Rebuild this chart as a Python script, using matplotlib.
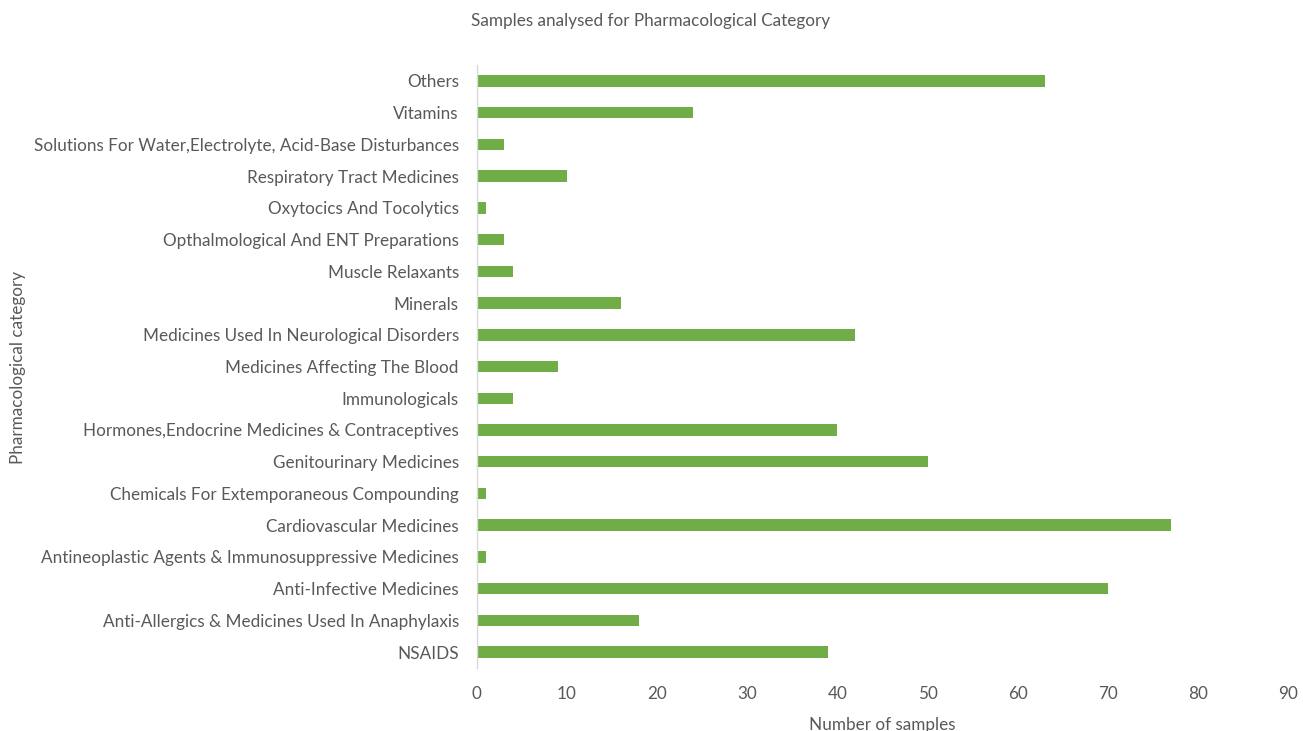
import matplotlib
matplotlib.use("Agg")
import matplotlib.pyplot as plt

plt.rcParams['font.family'] = ['Lato', 'DejaVu Sans']

categories = [
    "NSAIDS",
    "Anti-Allergics & Medicines Used In Anaphylaxis",
    "Anti-Infective Medicines",
    "Antineoplastic Agents & Immunosuppressive Medicines",
    "Cardiovascular Medicines",
    "Chemicals For Extemporaneous Compounding",
    "Genitourinary Medicines",
    "Hormones,Endocrine Medicines & Contraceptives",
    "Immunologicals",
    "Medicines Affecting The Blood",
    "Medicines Used In Neurological Disorders",
    "Minerals",
    "Muscle Relaxants",
    "Opthalmological And ENT Preparations",
    "Oxytocics And Tocolytics",
    "Respiratory Tract Medicines",
    "Solutions For Water,Electrolyte, Acid-Base Disturbances",
    "Vitamins",
    "Others",
]
samples = [39, 18, 70, 1, 77, 1, 50, 40, 4, 9, 42, 16, 4, 3, 1, 10, 3, 24, 63]
x_ticks = [0, 10, 20, 30, 40, 50, 60, 70, 80, 90]

text_color = "#595959"
bar_color = "#70AD47"
fs = 12.3

fig = plt.figure(figsize=(13.03, 7.31), dpi=100)
ax = fig.add_axes([0.366, 0.0862, 0.6225, 0.8248])

ypos = list(range(len(categories)))
ax.barh(ypos, samples, height=0.36, color=bar_color)

ax.set_xlim(0, 90)
ax.set_ylim(-0.5, len(categories) - 0.5)
ax.set_xticks(x_ticks)
ax.set_yticks(ypos)
ax.set_yticklabels(categories)
ax.tick_params(axis='both', length=0, labelsize=fs, colors=text_color)
ax.tick_params(axis='y', pad=13)
ax.tick_params(axis='x', pad=13)

for side in ["top", "right", "bottom"]:
    ax.spines[side].set_visible(False)
ax.spines["left"].set_color("#D9D9D9")
ax.spines["left"].set_linewidth(1.0)

fig.text(0.499, 0.971, "Samples analysed for Pharmacological Category",
         ha="center", va="center", fontsize=fs, color=text_color)
fig.text(0.677, 0.008, "Number of samples", ha="center", va="center",
         fontsize=fs, color=text_color)
fig.text(0.014, 0.498, "Pharmacological category", ha="center", va="center",
         rotation=90, fontsize=fs, color=text_color)

fig.savefig("out.png", dpi=100, facecolor="white")
